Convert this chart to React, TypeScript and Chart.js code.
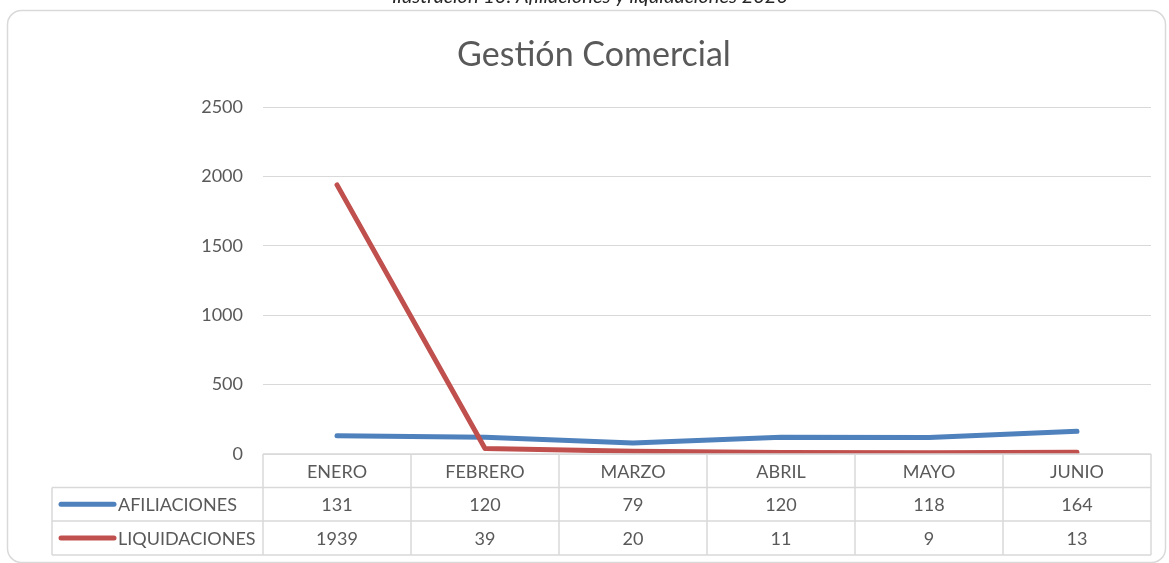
import React, { useEffect, useRef } from "react";
import { Chart, registerables } from "chart.js";

Chart.register(...registerables);

const categories = ["ENERO", "FEBRERO", "MARZO", "ABRIL", "MAYO", "JUNIO"];
const afiliaciones = [131, 120, 79, 120, 118, 164];
const liquidaciones = [1939, 39, 20, 11, 9, 13];
const seriesNames = ["AFILIACIONES", "LIQUIDACIONES"];
const yTicks = [0, 500, 1000, 1500, 2000, 2500];
const chartTitle = "Gestión Comercial";
const caption = "Ilustración 10: Afiliaciones y liquidaciones 2020";

const BLUE = "#4F81BD";
const RED = "#C0504D";
const TEXT = "#595959";
const GRID = "#D9D9D9";
const FONT = "Lato, 'Open Sans', sans-serif";
const FS = 18;

const decorPlugin = {
  id: "decor",
  beforeDraw(chart: any) {
    const ctx = chart.ctx as CanvasRenderingContext2D;
    ctx.save();
    // caption (cut off at top)
    ctx.fillStyle = "#262626";
    ctx.font = `italic 20px ${FONT}`;
    ctx.textAlign = "center";
    ctx.textBaseline = "alphabetic";
    ctx.fillText(caption, 590, 3);
    // rounded border
    ctx.strokeStyle = GRID;
    ctx.lineWidth = 1.5;
    ctx.beginPath();
    (ctx as any).roundRect(7.5, 10.5, 1158, 552, 14);
    ctx.stroke();
    // title
    ctx.fillStyle = TEXT;
    ctx.font = `34px ${FONT}`;
    ctx.textBaseline = "middle";
    ctx.fillText(chartTitle, 594, 55);
    ctx.restore();
  },
  afterDraw(chart: any) {
    const ctx = chart.ctx as CanvasRenderingContext2D;
    const area = chart.chartArea;
    const left = area.left;
    const right = area.right;
    const top = area.bottom;
    const n = categories.length;
    const colW = (right - left) / n;
    const rows = [top, top + 33.5, top + 67, top + 101];
    const tableLeft = 52;
    ctx.save();
    ctx.strokeStyle = GRID;
    ctx.lineWidth = 1.5;
    ctx.beginPath();
    ctx.moveTo(left, rows[0]);
    ctx.lineTo(right, rows[0]);
    for (let r = 1; r < rows.length; r++) {
      ctx.moveTo(tableLeft, rows[r]);
      ctx.lineTo(right, rows[r]);
    }
    ctx.moveTo(tableLeft, rows[1]);
    ctx.lineTo(tableLeft, rows[3]);
    for (let k = 0; k <= n; k++) {
      const x = left + k * colW;
      ctx.moveTo(x, rows[0]);
      ctx.lineTo(x, rows[3]);
    }
    ctx.stroke();

    ctx.fillStyle = TEXT;
    ctx.font = `${FS}px ${FONT}`;
    ctx.textAlign = "center";
    ctx.textBaseline = "middle";
    const xs = chart.scales.x;
    const data = [afiliaciones, liquidaciones];
    categories.forEach((c, i) => {
      const x = xs.getPixelForValue(i);
      ctx.fillText(c, x, (rows[0] + rows[1]) / 2 + 1);
      data.forEach((d, r) => {
        ctx.fillText(String(d[i]), x, (rows[r + 1] + rows[r + 2]) / 2 + 1);
      });
    });
    const colors = [BLUE, RED];
    seriesNames.forEach((s, r) => {
      const y = (rows[r + 1] + rows[r + 2]) / 2;
      ctx.strokeStyle = colors[r];
      ctx.lineWidth = 5;
      ctx.lineCap = "round";
      ctx.beginPath();
      ctx.moveTo(61, y);
      ctx.lineTo(114, y);
      ctx.stroke();
      ctx.textAlign = "left";
      ctx.fillText(s, 118, y + 1);
    });
    ctx.restore();
  },
};

export default function App() {
  const ref = useRef<HTMLCanvasElement | null>(null);
  useEffect(() => {
    if (!ref.current) return;
    const chart = new Chart(ref.current, {
      type: "line",
      data: {
        labels: categories,
        datasets: [
          {
            label: seriesNames[0],
            data: afiliaciones,
            borderColor: BLUE,
            backgroundColor: BLUE,
            borderWidth: 5,
            pointRadius: 0,
            tension: 0,
            borderCapStyle: "round",
            borderJoinStyle: "round",
            order: 2,
          },
          {
            label: seriesNames[1],
            data: liquidaciones,
            borderColor: RED,
            backgroundColor: RED,
            borderWidth: 5,
            pointRadius: 0,
            tension: 0,
            borderCapStyle: "round",
            borderJoinStyle: "round",
            order: 1,
          },
        ],
      },
      options: {
        animation: false,
        responsive: false,
        maintainAspectRatio: false,
        layout: { padding: { left: 0, right: 18, top: 107, bottom: 109 } },
        plugins: { legend: { display: false }, title: { display: false }, tooltip: { enabled: false } },
        scales: {
          x: { display: false, offset: true },
          y: {
            min: 0,
            max: 2500,
            afterFit: (s: any) => {
              s.width = 263;
            },
            afterBuildTicks: (s: any) => {
              s.ticks = yTicks.map((v) => ({ value: v }));
            },
            ticks: {
              color: TEXT,
              font: { family: FONT, size: FS },
              padding: 20,
              callback: (v: any) => String(v),
            },
            grid: { color: GRID, lineWidth: 1, drawTicks: false },
            border: { display: false },
          },
        },
      },
      plugins: [decorPlugin],
    });
    return () => chart.destroy();
  }, []);
  return (
    <div style={{ position: "fixed", left: 0, top: 0, width: 1169, height: 563, background: "#fff" }}>
      <canvas ref={ref} width={1169} height={563} style={{ width: 1169, height: 563 }} />
    </div>
  );
}
